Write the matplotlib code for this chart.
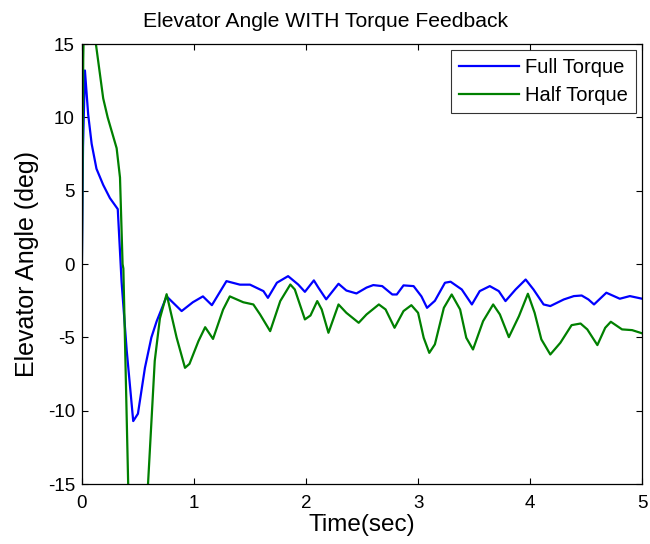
import matplotlib

matplotlib.use("Agg")
import matplotlib.pyplot as plt
import numpy as np

plt.rcParams.update({
    "font.family": ["Liberation Sans", "DejaVu Sans"],
    "axes.unicode_minus": False,
    "xtick.direction": "in",
    "ytick.direction": "in",
    "xtick.top": True,
    "ytick.right": True,
})

# Full Torque trace
full_t = [0.0, 0.01, 0.027, 0.056, 0.087, 0.13, 0.19, 0.25, 0.32, 0.354, 0.40,
          0.458, 0.50, 0.5625, 0.62, 0.667, 0.756, 0.89, 0.99, 1.08, 1.16,
          1.29, 1.41, 1.5, 1.62, 1.66, 1.74, 1.84, 1.93, 1.99, 2.07, 2.11,
          2.18, 2.29, 2.36, 2.45, 2.54, 2.6, 2.68, 2.77, 2.81, 2.87, 2.96,
          3.03, 3.08, 3.15, 3.24, 3.29, 3.39, 3.48, 3.55, 3.64, 3.72, 3.78,
          3.87, 3.96, 4.03, 4.12, 4.18, 4.30, 4.39, 4.46, 4.52, 4.57, 4.68,
          4.80, 4.89, 5.0]
full_y = [0.0, 8.0, 13.2, 10.2, 8.2, 6.5, 5.4, 4.5, 3.75, -1.2, -5.9,
          -10.7, -10.2, -7.07, -5.0, -3.9, -2.2, -3.2, -2.6, -2.2, -2.8,
          -1.16, -1.4, -1.4, -1.84, -2.3, -1.27, -0.82, -1.39, -1.89, -1.11,
          -1.6, -2.4, -1.34, -1.8, -2.0, -1.6, -1.43, -1.5, -2.07, -2.07,
          -1.45, -1.5, -2.2, -2.98, -2.5, -1.27, -1.2, -1.73, -2.75, -1.84,
          -1.5, -1.84, -2.52, -1.73, -1.05, -1.73, -2.75, -2.86, -2.41,
          -2.18, -2.14, -2.41, -2.75, -1.95, -2.36, -2.18, -2.36]

# Half Torque trace
half_t = [0.0, 0.012, 0.03, 0.125, 0.19, 0.23, 0.31, 0.34, 0.363, 0.37,
          0.413, 0.44, 0.55, 0.59, 0.65, 0.696, 0.756, 0.845, 0.92, 0.96,
          1.04, 1.10, 1.17, 1.26, 1.32, 1.44, 1.53, 1.59, 1.68, 1.77, 1.86,
          1.90, 1.99, 2.04, 2.10, 2.14, 2.2, 2.29, 2.36, 2.47, 2.54, 2.65,
          2.71, 2.79, 2.87, 2.94, 3.0, 3.05, 3.10, 3.15, 3.23, 3.30, 3.375,
          3.43, 3.49, 3.58, 3.67, 3.73, 3.81, 3.9, 3.98, 4.04, 4.10, 4.18,
          4.27, 4.37, 4.45, 4.51, 4.60, 4.67, 4.72, 4.82, 4.91, 5.0]
half_y = [0.0, 14.0, 22.0, 15.0, 11.3, 10.0, 7.9, 5.9, 0.0, -0.3,
          -15.0, -22.0, -22.0, -15.0, -6.6, -3.7, -2.05, -5.0, -7.07, -6.8,
          -5.25, -4.3, -5.1, -3.1, -2.2, -2.6, -2.75, -3.43, -4.57, -2.52,
          -1.39, -1.73, -3.77, -3.5, -2.52, -3.09, -4.68, -2.75, -3.32,
          -4.0, -3.43, -2.75, -3.09, -4.34, -3.2, -2.8, -3.32, -5.02, -6.05,
          -5.47, -2.98, -2.07, -3.09, -5.02, -5.82, -3.89, -2.75, -3.43,
          -4.98, -3.55, -2.02, -3.32, -5.13, -6.16, -5.36, -4.16, -4.05,
          -4.45, -5.52, -4.34, -3.93, -4.45, -4.5, -4.72]

x_ticks = [0, 1, 2, 3, 4, 5]
y_ticks = [-15, -10, -5, 0, 5, 10, 15]

fig = plt.figure(figsize=(6.5, 5.44), dpi=100, facecolor="white")
ax = fig.add_axes([0.126, 0.110, 0.862, 0.809])

ax.plot(full_t, full_y, color="#0000FF", lw=1.6, label="Full Torque",
        solid_joinstyle="round")
ax.plot(half_t, half_y, color="#008000", lw=1.6, label="Half Torque",
        solid_joinstyle="round")

ax.set_xlim(0, 5)
ax.set_ylim(-15, 15)
ax.set_xticks(x_ticks)
ax.set_yticks(y_ticks)
ax.tick_params(labelsize=13.5, length=4, width=0.8)
ax.tick_params(axis="x", pad=8)
ax.tick_params(axis="y", pad=5)
for s in ax.spines.values():
    s.set_linewidth(0.9)

ax.set_title("Elevator Angle WITH Torque Feedback", fontsize=15.2, pad=12, x=0.434)
ax.set_xlabel("Time(sec)", fontsize=17.5, labelpad=1)
ax.set_ylabel("Elevator Angle (deg)", fontsize=18, labelpad=6)

leg = ax.legend(loc="upper right", fontsize=14.5, frameon=True, fancybox=False,
                edgecolor="black", borderaxespad=0.3, handlelength=3.0,
                handletextpad=0.3, labelspacing=0.45, borderpad=0.4)
leg.get_frame().set_linewidth(0.8)

fig.savefig("out.png", dpi=100)
